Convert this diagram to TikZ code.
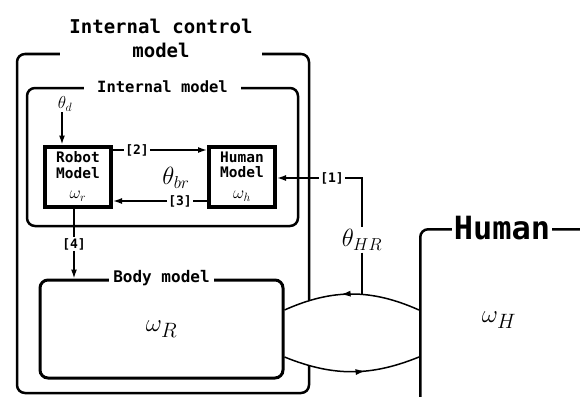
\documentclass[tikz,border=0pt]{standalone}
\usepackage{fontspec}
\setmonofont{DejaVu Sans Mono}
\usetikzlibrary{arrows.meta, positioning, decorations.markings}

\begin{document}
\begin{tikzpicture}[x=1pt,y=-1pt]

% --- STYLES ---
\tikzstyle{frame} = [draw, line width=2.5pt, rounded corners=8pt]
\tikzstyle{model} = [rectangle, draw, line width=4pt, minimum width=66pt, minimum height=60pt, align=center, inner sep=1pt, font=\ttfamily\bfseries\fontsize{14.5}{15.5}\selectfont]
\tikzstyle{title} = [fill=white, inner sep=3pt, font=\ttfamily\bfseries\fontsize{15.5}{18}\selectfont]
\tikzstyle{tag} = [inner sep=1pt, font=\ttfamily\bfseries\fontsize{13}{15}\selectfont]
\tikzstyle{arrow} = [line width=1.5pt, -{Latex[length=9pt,width=6pt]}]
\tikzstyle{line} = [line width=1.5pt]
\tikzset{midarrow/.style={postaction={decorate}, decoration={markings, mark=at position #1 with {\arrow{Latex[length=10pt,width=6pt]}}}}}

\useasboundingbox (0,0) rectangle (580,396);
\clip (0,0) rectangle (580,396);

% --- FRAMES ---
\node (internal) [frame, minimum width=271pt, minimum height=138pt] at (162.5,157) {};
\node (body) [frame, line width=3pt, minimum width=243pt, minimum height=98pt] at (161.5,329) {};
\node (humanbox) [frame, anchor=north west, minimum width=230pt, minimum height=220pt] at (419,228) {};

% --- MODEL BOXES ---
\node (robotmdl) [model] at (78,176.5) {Robot\\Model\\[5pt]{\fontsize{18}{18}\selectfont$\omega_r$}};
\node (humanmdl) [model] at (242,176.5) {Human\\Model\\[5pt]{\fontsize{18}{18}\selectfont$\omega_h$}};

% --- SYMBOLS ---
\node (thd) [inner sep=1pt, font=\fontsize{17}{17}\selectfont] at (65,104) {$\theta_d$};
\node (thbr) [inner sep=1pt, font=\fontsize{25}{25}\selectfont] at (176,178) {$\theta_{br}$};
\node (thHR) [inner sep=2pt, font=\fontsize{25}{25}\selectfont] at (362,240) {$\theta_{HR}$};
\node (omR) [font=\fontsize{32}{32}\selectfont] at (body.center) {$\omega_R$};
\node (omH) [font=\fontsize{32}{32}\selectfont] at (499,320) {$\omega_H$};

% --- TAGS ---
\node (t1) [tag] at (332,178) {[1]};
\node (t2) [tag] at (137,150) {[2]};
\node (t3) [tag] at (180,201) {[3]};
\node (t4) [tag] at (74,244) {[4]};

% --- ARROWS ---
\draw [arrow] (thd.south -| 62,0) -- (robotmdl.north -| 62,0);
\draw [line] (robotmdl.east |- t2) -- (t2);
\draw [arrow] (t2) -- (humanmdl.west |- t2);
\draw [line] (humanmdl.west |- t3) -- (t3);
\draw [arrow] (t3) -- (robotmdl.east |- t3);
\draw [line] (t4 |- robotmdl.south) -- (t4);
\draw [arrow] (t4) -- (t4 |- body.north);
\draw [arrow] (t1) -- (humanmdl.east |- t1);

% Body <-> Human
\coordinate (bodyTop) at ([yshift=19pt]body.east);
\coordinate (bodyBot) at ([yshift=-28pt]body.east);
\coordinate (humTop) at (humanbox.west |- bodyTop);
\coordinate (humBot) at (humanbox.west |- bodyBot);
\draw [line, midarrow=0.58] (humTop) to[bend right=24] coordinate[pos=0.43] (jHR) coordinate[pos=0.81] (jOut1) (bodyTop);
\draw [line, midarrow=0.6] (bodyBot) to[bend right=22] coordinate[pos=0.19] (jOut2) (humBot);
\draw [line] (t1.east) -| (thHR.north);
\draw [line] (thHR.south) -- (thHR.south |- jHR);

% --- OUTER FRAME ---
\draw [frame] (jOut1 -| 309,0) -- (309,54) -- (17,54) -- (17,393) -- (309,393) -- (jOut2 -| 309,0);

% --- TITLES ---
\node (ctrllbl) [title, anchor=south, align=center, minimum width=202pt, font=\ttfamily\bfseries\fontsize{19}{24}\selectfont] at (161,61) {Internal control\\model};
\node (intlbl) [title, inner xsep=13pt] at (internal.north) {Internal model};
\node (bodylbl) [title, inner xsep=4pt, font=\ttfamily\bfseries\fontsize{16}{18}\selectfont] at (body.north) {Body model};
\node (humanlbl) [title, inner sep=2pt, font=\ttfamily\bfseries\fontsize{32}{32}\selectfont] at ([xshift=83pt]humanbox.north west) {Human};

\end{tikzpicture}
\end{document}
